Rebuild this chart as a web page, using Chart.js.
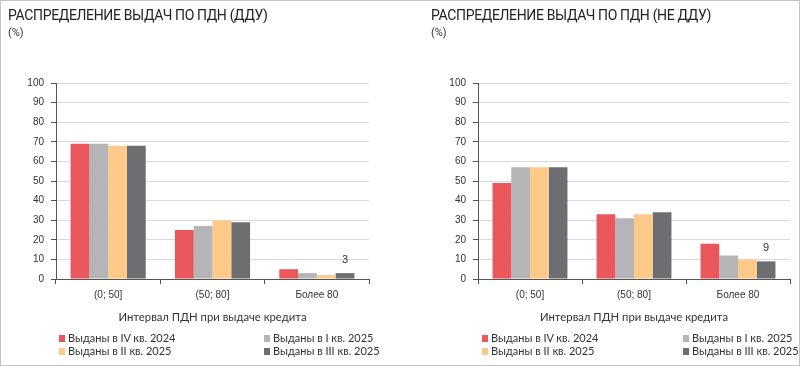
<!DOCTYPE html>
<html>
<head>
<meta charset="utf-8">
<script src="https://cdn.jsdelivr.net/npm/chart.js@4.4.1/dist/chart.umd.min.js"></script>
<style>
  html, body { margin: 0; padding: 0; background: #fff; }
  #frame {
    position: relative; width: 800px; height: 366px;
    box-sizing: border-box; border: 1px solid #c4c4c4; overflow: hidden;
  }
  .panel { position: absolute; top: 0; width: 400px; height: 366px; }
  .panel canvas { position: absolute; left: 0; top: 0; }
  .title {
    position: absolute; top: 6px; font: 14px Roboto, sans-serif; color: #222;
    white-space: nowrap; letter-spacing: -0.35px;
  }
  .unit { position: absolute; top: 25px; font: 11px Roboto, sans-serif; color: #333; }
  .leg {
    position: absolute; font: 11px Lato, sans-serif; color: #333; white-space: nowrap;
    line-height: 13px;
  }
  .leg i {
    display: inline-block; width: 6px; height: 7px; margin-right: 3px;
  }
</style>
</head>
<body>
<div id="frame">
  <div class="panel" id="leftPanel" style="left:0">
    <canvas id="dduChart" width="400" height="366"></canvas>
    <div class="title" style="left:7px">РАСПРЕДЕЛЕНИЕ ВЫДАЧ ПО ПДН (ДДУ)</div>
    <div class="unit" style="left:7px">(%)</div>
  </div>
  <div class="panel" id="rightPanel" style="left:400px">
    <canvas id="nonDduChart" width="400" height="366"></canvas>
    <div class="title" style="left:30px">РАСПРЕДЕЛЕНИЕ ВЫДАЧ ПО ПДН (НЕ ДДУ)</div>
    <div class="unit" style="left:30px">(%)</div>
  </div>
</div>
<script>
const categories = ["(0; 50]", "(50; 80]", "Более 80"];
const seriesNames = [
  "Выданы в IV кв. 2024",
  "Выданы в I кв. 2025",
  "Выданы в II кв. 2025",
  "Выданы в III кв. 2025"
];
const seriesColors = ["#e9575c", "#b5b5b7", "#fdca8a", "#6d6e71"];

// ДДУ
const dduIV2024 = [69, 25, 5];
const dduI2025 = [69, 27, 3];
const dduII2025 = [68, 30, 2];
const dduIII2025 = [68, 29, 3];

// не ДДУ
const nonDduIV2024 = [49, 33, 18];
const nonDduI2025 = [57, 31, 12];
const nonDduII2025 = [57, 33, 10];
const nonDduIII2025 = [57, 34, 9];

const yMax = 100;
const yStep = 10;
const axisTitle = "Интервал ПДН при выдаче кредита";

/** label over the last bar of the last category */
const lastBarLabel = {
  id: "lastBarLabel",
  afterDatasetsDraw(chart) {
    const dsIndex = chart.data.datasets.length - 1;
    const meta = chart.getDatasetMeta(dsIndex);
    const i = chart.data.labels.length - 1;
    const bar = meta.data[i];
    const value = chart.data.datasets[dsIndex].data[i];
    const ctx = chart.ctx;
    ctx.save();
    ctx.font = "11px 'Liberation Sans', Arial, sans-serif";
    ctx.fillStyle = "#333";
    ctx.textAlign = "center";
    ctx.textBaseline = "middle";
    ctx.fillText(String(value), bar.x, bar.y - 13);
    ctx.restore();
  }
};

function makeChart(canvasId, series, padLeftAxis, padRight) {
  const ctx = document.getElementById(canvasId).getContext("2d");
  return new Chart(ctx, {
    type: "bar",
    data: {
      labels: categories,
      datasets: series.map((data, k) => ({
        label: seriesNames[k],
        data: data,
        backgroundColor: seriesColors[k],
        borderWidth: 0,
        barPercentage: 1,
        categoryPercentage: 0.72,
      })),
    },
    options: {
      responsive: false,
      animation: false,
      layout: { padding: { left: 0, right: padRight, top: 82, bottom: 40 } },
      plugins: { legend: { display: false }, tooltip: { enabled: false } },
      scales: {
        x: {
          grid: {
            offset: true,
            drawOnChartArea: false,
            drawTicks: true,
            tickLength: 5,
            tickColor: "#555",
          },
          border: { color: "#555", width: 1 },
          ticks: {
            padding: 5,
            color: "#333",
            font: { family: "'Liberation Sans', Arial, sans-serif", size: 10 },
          },
          title: {
            display: true,
            text: axisTitle,
            color: "#333",
            padding: { top: 0, bottom: 3 },
            font: { family: "Lato, sans-serif", size: 11.3 },
          },
          afterFit: (scale) => { scale.height = 48; },
        },
        y: {
          min: 0,
          max: yMax,
          ticks: {
            stepSize: yStep,
            padding: 7,
            color: "#333",
            font: { family: "'Liberation Sans', Arial, sans-serif", size: 10 },
          },
          grid: {
            color: "#d9d9d9",
            tickColor: "#555",
            tickLength: 5,
            lineWidth: 1,
          },
          border: { color: "#555", width: 1 },
          afterFit: (scale) => { scale.width = padLeftAxis; },
        },
      },
    },
    plugins: [lastBarLabel],
  });
}

makeChart("dduChart", [dduIV2024, dduI2025, dduII2025, dduIII2025], 55, 32);
makeChart("nonDduChart", [nonDduIV2024, nonDduI2025, nonDduII2025, nonDduIII2025], 77, 11);

/** ===== HTML legends ===== */
function buildLegend(panelId, cols, rows) {
  const panel = document.getElementById(panelId);
  seriesNames.forEach((name, k) => {
    const col = k % 2;
    const row = Math.floor(k / 2);
    const el = document.createElement("div");
    el.className = "leg";
    el.style.left = cols[col] + "px";
    el.style.top = rows[row] + "px";
    el.innerHTML = '<i style="background:' + seriesColors[k] + '"></i>' + name;
    panel.appendChild(el);
  });
}
buildLegend("leftPanel", [58, 263], [330, 343]);
buildLegend("rightPanel", [81, 282], [330, 343]);
</script>
</body>
</html>
